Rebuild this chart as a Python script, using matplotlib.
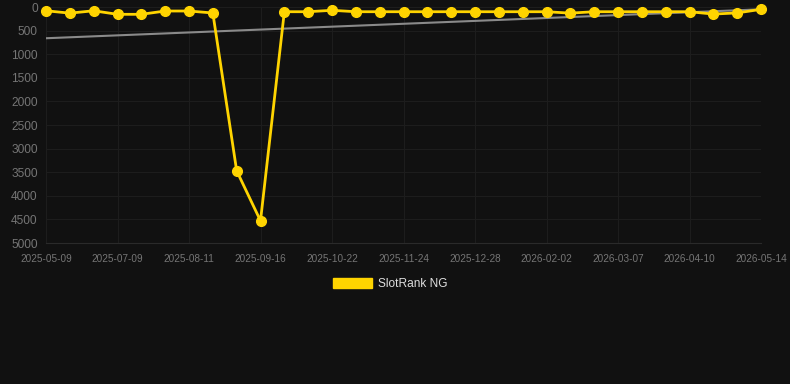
import numpy as np
import matplotlib.pyplot as plt
from matplotlib.patches import Patch

# rank values per snapshot (lower is better)
ranks = [80, 130, 80, 155, 155, 85, 85, 127, 3470, 4530,
         100, 100, 70, 100, 100, 100, 100, 100, 100, 100,
         100, 100, 130, 100, 100, 100, 100, 100, 150, 125, 50]
tick_labels = ['2025-05-09', '2025-07-09', '2025-08-11', '2025-09-16',
               '2025-10-22', '2025-11-24', '2025-12-28', '2026-02-02',
               '2026-03-07', '2026-04-10', '2026-05-14']
series_name = 'SlotRank NG'

x = np.arange(len(ranks))
ranks = np.array(ranks)

# linear trend over the whole range
k, d = np.polyfit(x, ranks, 1)
trend = k * x + d

bg = '#111111'
gold = '#ffd400'
plt.rcParams['font.family'] = ['Liberation Sans', 'DejaVu Sans']

fig = plt.figure(figsize=(7.9, 3.84), dpi=100, facecolor=bg)
ax = fig.add_axes([46/790, 1 - 243/384, 715/790, 236/384], facecolor=bg)

ax.plot(x, trend, '-', color='#8a8a8a', lw=1.5, zorder=2)
ax.plot(x, ranks, '-o', color=gold, lw=2.0, ms=7, zorder=3, clip_on=False)

ax.set_xlim(0, len(ranks) - 1)
ax.set_ylim(5000, 0)
ax.set_yticks(np.arange(0, 5001, 500))
ax.set_xticks(x[::3])
ax.set_xticklabels(tick_labels)
ax.grid(True, color='#1d1d1d', lw=0.8)
ax.set_axisbelow(True)
ax.tick_params(axis='y', length=0, pad=6, labelsize=8.6, labelcolor='#757575')
ax.tick_params(axis='x', length=0, pad=8, labelsize=7.2, labelcolor='#757575')
for s in ax.spines.values():
    s.set_visible(False)
ax.spines['bottom'].set_visible(True)
ax.spines['bottom'].set_color('#2a2a2a')
ax.spines['bottom'].set_linewidth(0.8)

fig.legend(handles=[Patch(color=gold)], labels=[series_name],
           loc='center', bbox_to_anchor=(390/790, 1 - 284/384),
           frameon=False, fontsize=8.6, labelcolor='#dddddd',
           handlelength=3.3, handleheight=1.0, handletextpad=0.5)

fig.savefig('out.png', dpi=100, facecolor=bg)
